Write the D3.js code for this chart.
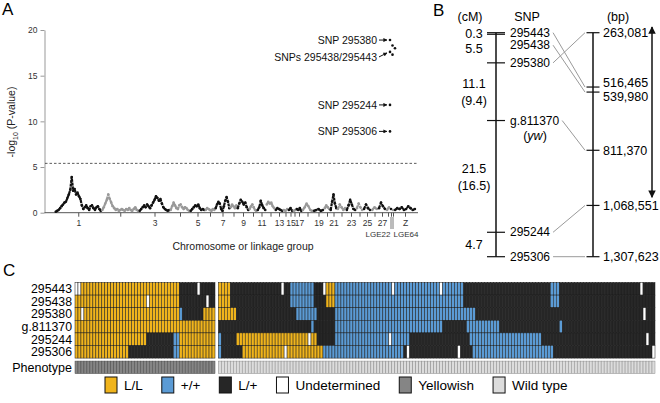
<!DOCTYPE html>
<html>
<head>
<meta charset="utf-8">
<script src="https://cdn.jsdelivr.net/npm/d3@7"></script>
<style>
  body { margin: 0; background: #fff; }
  svg { display: block; font-family: "Liberation Sans", Arial, Helvetica, sans-serif; }
</style>
</head>
<body>
<svg id="fig" width="660" height="403"></svg>
<script>
// ---------------- data: panel A (manhattan) ----------------
const chroms = ['1','2','3','4','5','6','7','8','9','10','11','12','13','14','15','16','17','18','19','20',
  '21','22','23','24','25','26','27','28','LGE22','LGE64','Z']
// relative plotted length of each chromosome
const chromSpan = [46.5, 37.5, 31, 20, 15, 10, 15, 7, 12, 8, 9, 9, 8, 5, 5, 3, 6, 11, 11, 6,
  7, 9, 10, 7, 8, 7, 8, 4, 2, 2, 22]
// -log10 P profile along every chromosome
const chromLogP = [
  [0.1,0.2,0.3,0.5,0.7,0.9,1.1,1.2,1.6,2.0,2.5,3.9,2.4,2.6,2.0,2.2,1.8,1.5,0.8,0.4,0.6,0.8,0.5,0.3,0.7,0.8,0.5,0.3,0.6,0.7,0.4,0.2],
  [0.3,0.6,1.0,1.4,2.0,1.5,1.1,0.7,0.5,0.3,0.4,0.2,0.3,0.4,0.3,0.2,0.4,0.3,0.5,0.3,0.2,0.4,0.6,0.3,0.2],
  [0.2,0.4,0.6,0.8,0.6,0.9,0.7,0.5,0.8,1.1,1.4,1.8,1.6,1.3,1.5,1.0,0.6,0.4,0.3,0.2,0.3],
  [0.3,0.7,1.1,0.8,0.5,0.4,0.8,0.9,0.6,0.4,0.6,0.5,0.3,0.2],
  [0.2,0.4,0.6,0.8,0.7,0.9,0.5,0.3,0.4,0.3],
  [0.3,0.5,0.4,0.3,0.2,0.4,0.3],
  [0.5,0.9,1.2,1.0,0.4,0.2,0.7,1.3,1.7,1.2,0.5],
  [0.6,0.9,0.7,0.5,0.8],
  [0.5,1.0,1.4,1.2,0.9,1.1,0.6,0.3],
  [0.4,0.7,0.9,0.6,0.3,0.2],
  [0.3,0.6,1.3,0.8,0.5,0.3],
  [0.9,1.2,1.0,1.1,0.7,0.5],
  [0.3,0.5,0.4,0.3,0.2],
  [0.3,0.2,0.4],
  [0.3,0.5,0.2],
  [0.2,0.3],
  [0.4,0.3,0.5,0.2],
  [0.3,0.6,1.0,0.7,0.3,0.2],
  [0.2,0.3,0.4,0.2,0.3],
  [0.5,0.8,0.6,0.4],
  [0.3,1.2,2.0,1.0,0.5],
  [0.4,0.9,0.6,0.3,0.5],
  [0.3,0.8,1.4,0.9,0.4,0.3],
  [0.5,1.0,0.6,0.3],
  [0.4,0.9,0.5,0.3],
  [0.3,0.6,0.4],
  [0.5,1.1,0.7,0.4],
  [0.3,0.6],
  [0.4],
  [0.3],
  [0.3,0.5,0.4,0.6,0.3,0.4,0.7,0.5,0.3,0.4]
]
const logpTicks = [0, 5, 10, 15, 20]
const threshold = 5.4
const sigChrom = '28'
const sigLabels = ['SNP 295380', 'SNPs 295438/295443', 'SNP 295244', 'SNP 295306']
const sigLogP = [[18.9, 18.3, 18.0], [17.6, 17.3], [11.8], [8.9]]

// ---------------- data: panel B (maps) ----------------
const mapSnps = ['295443', '295438', '295380', 'g.811370', '295244', '295306']
const cmGaps = [0.3, 5.5, 11.1, 21.5, 4.7]
const cmGapsAlt = ['', '', '(9.4)', '(16.5)', '']
const bpPos = [263081, 516465, 539980, 811370, 1068551, 1307623]
const snpToBp = [516465, 539980, 263081, 811370, 1068551, 1307623]
const candidateBp = [236000, 1030000]

// ---------------- data: panel C (genotypes, run lengths) ----------------
// L = L/L, B = +/+, H = L/+, U = undetermined
const genoMarkers = ['295443', '295438', '295380', 'g.811370', '295244', '295306']
const yellowishGeno = [
  [['U',2],['L',33],['H',6],['U',1],['H',5]],
  [['L',24],['U',1],['L',10],['H',9],['U',1],['H',2]],
  [['L',2],['U',1],['L',32],['B',1],['H',7],['L',4]],
  [['L',47]],
  [['L',24],['H',9],['B',2],['L',12]],
  [['L',18],['H',15],['B',2],['L',12]]
]
const wildGeno = [
  [['L',4],['H',17],['U',1],['H',2],['B',8],['H',3],['U',1],['L',3],['B',19],['U',1],['B',15],['U',1],['B',7],['H',29],['B',3],['H',27],['U',1],['H',4]],
  [['L',4],['H',20],['B',8],['H',4],['L',3],['B',43],['H',29],['B',3],['H',32]],
  [['L',6],['H',20],['B',7],['H',6],['B',47],['H',56],['U',1],['H',3]],
  [['H',31],['B',1],['H',7],['B',36],['H',8],['B',11],['H',20],['B',1],['H',31]],
  [['B',1],['H',5],['L',24],['U',1],['L',2],['H',6],['B',18],['U',1],['B',6],['H',20],['B',24],['H',35],['U',1],['H',2]],
  [['B',1],['H',7],['L',14],['U',1],['L',12],['B',27],['H',1],['U',1],['H',16],['U',1],['H',4],['B',27],['H',33],['U',1]]
]
const legendKeys = ['L', 'B', 'H', 'U', 'Y', 'W']
const legendLabels = ['L/L', '+/+', 'L/+', 'Undetermined', 'Yellowish', 'Wild type']

const fills = { L: '#f0b41c', B: '#5b9bd5', H: '#262626', U: '#ffffff', Y: '#858585', W: '#dcdcdc' }

const svg = d3.select('#fig')

// panel letters
svg.append('text').attr('x', 2).attr('y', 15).attr('font-size', 17).text('A')
svg.append('text').attr('x', 433).attr('y', 16).attr('font-size', 17).text('B')
svg.append('text').attr('x', 3).attr('y', 276).attr('font-size', 17).text('C')

// ================= A =================
const yA = d3.scaleLinear().domain([0, 20]).range([212.7, 30])
const total = d3.sum(chromSpan)
const xA = d3.scaleLinear().domain([0, total]).range([55, 416])
const ends = Array.from(d3.cumsum(chromSpan))
const starts = ends.map((e, i) => e - chromSpan[i])
const centers = starts.map((s, i) => s + chromSpan[i] / 2)

const gA = svg.append('g')

// y axis
gA.append('g')
  .attr('transform', 'translate(44.5,0)')
  .call(d3.axisLeft(yA).tickValues(logpTicks).tickSize(4).tickSizeOuter(0).tickPadding(3))
  .call(g => g.select('.domain').attr('stroke', '#999'))
  .call(g => g.selectAll('.tick line').attr('stroke', '#999'))
  .call(g => g.selectAll('.tick text').attr('font-size', 8.5).attr('fill', '#333')
    .attr('font-family', null))

// x axis
const labelFor = i => {
  const c = chroms[i]
  if (c === 'Z') return 'Z'
  if (c.startsWith('LGE')) return ''
  return (+c) % 2 === 1 ? c : ''
}
gA.append('line').attr('x1', 44.5).attr('x2', 418).attr('y1', 212.7).attr('y2', 212.7)
  .attr('stroke', '#555').attr('stroke-width', 1)
gA.append('g')
  .attr('transform', 'translate(0,212.7)')
  .call(d3.axisBottom(xA).tickValues(centers).tickFormat((d, i) => labelFor(i)).tickSize(4).tickSizeOuter(0).tickPadding(3))
  .call(g => g.select('.domain').remove())
  .call(g => g.selectAll('.tick line').attr('stroke', '#555'))
  .call(g => g.selectAll('.tick text').attr('font-size', 8.5).attr('fill', '#333').attr('font-family', null))

// LGE labels on a second line, pulled apart with leader lines
chroms.forEach((c, i) => {
  if (!c.startsWith('LGE')) return
  const cx = xA(centers[i])
  const left = c === 'LGE22'
  gA.append('line').attr('x1', cx).attr('x2', cx).attr('y1', 217).attr('y2', 229)
    .attr('stroke', '#555').attr('stroke-width', 0.8)
  gA.append('text').attr('x', left ? cx - 0.5 : cx + 0.5).attr('y', 237)
    .attr('text-anchor', left ? 'end' : 'start')
    .attr('font-size', 8).attr('fill', '#333').text(c)
})

gA.append('text').attr('x', 243).attr('y', 250).attr('text-anchor', 'middle')
  .attr('font-size', 10.5).attr('fill', '#222').text('Chromosome or linkage group')

const yl = gA.append('text').attr('transform', 'translate(15,122) rotate(-90)')
  .attr('text-anchor', 'middle').attr('font-size', 10.5).attr('fill', '#222')
yl.append('tspan').text('-log')
yl.append('tspan').attr('font-size', 7).attr('dy', 3).text('10')
yl.append('tspan').attr('dy', -3).text(' (P-value)')

// threshold
gA.append('line').attr('x1', 45).attr('x2', 418).attr('y1', yA(threshold)).attr('y2', yA(threshold))
  .attr('stroke', '#333').attr('stroke-width', 0.8).attr('stroke-dasharray', '2.5,2')

// points per chromosome
chromLogP.forEach((vals, i) => {
  const col = i % 2 === 0 ? '#111' : '#999'
  const step = chromSpan[i] / vals.length
  const pts = vals.map((v, j) => [xA(starts[i] + (j + 0.5) * step), yA(v)])
  if (pts.length > 1) {
    gA.append('path').attr('d', d3.line()(pts)).attr('fill', 'none')
      .attr('stroke', col).attr('stroke-width', 2.2).attr('stroke-linejoin', 'round')
      .attr('stroke-dasharray', '3,0.8')
  }
  gA.selectAll(null).data(pts).enter().append('circle')
    .attr('cx', d => d[0]).attr('cy', d => d[1]).attr('r', 1.3).attr('fill', col)
})

// significant SNPs + annotations
const defs = svg.append('defs')
defs.append('marker').attr('id', 'ah').attr('viewBox', '0 0 10 10').attr('refX', 9).attr('refY', 5)
  .attr('markerWidth', 4).attr('markerHeight', 4).attr('orient', 'auto')
  .append('path').attr('d', 'M0,0L10,5L0,10z').attr('fill', '#111')
defs.append('marker').attr('id', 'big').attr('viewBox', '0 0 10 10').attr('refX', 9).attr('refY', 5)
  .attr('markerWidth', 5).attr('markerHeight', 5).attr('orient', 'auto-start-reverse')
  .append('path').attr('d', 'M0,0L10,5L0,10z').attr('fill', '#111')

const si = chroms.indexOf(sigChrom)
const labelDy = [0, 5, 0, 0]
sigLogP.forEach((vals, k) => {
  const x0 = xA(centers[si]) + 2
  vals.forEach((v, j) => {
    gA.append('circle').attr('cx', x0 + j * 2.5).attr('cy', yA(v)).attr('r', 1.3).attr('fill', '#111')
  })
  const dotY = yA(vals[0])
  const ty = dotY + labelDy[k]
  gA.append('text').attr('x', x0 - 13).attr('y', ty).attr('dy', '0.35em')
    .attr('text-anchor', 'end').attr('font-size', 10.5).attr('fill', '#111').text(sigLabels[k])
  gA.append('line').attr('x1', x0 - 11).attr('y1', ty).attr('x2', x0 - 3).attr('y2', dotY + (ty - dotY) * 0.2)
    .attr('stroke', '#111').attr('stroke-width', 1).attr('marker-end', 'url(#ah)')
})

// ================= B =================
const gB = svg.append('g')
const cmPos = [0, ...Array.from(d3.cumsum(cmGaps))]
const yCm = d3.scaleLinear().domain([0, d3.max(cmPos)]).range([32.7, 256.7])
const yBp = d3.scaleLinear().domain(d3.extent(bpPos)).range([32.7, 256.7])
const axL = 496, axR = 593

gB.append('text').attr('x', 470).attr('y', 21).attr('text-anchor', 'middle').attr('font-size', 12.5).text('(cM)')
gB.append('text').attr('x', 527).attr('y', 21).attr('text-anchor', 'middle').attr('font-size', 12.5).text('SNP')
gB.append('text').attr('x', 618).attr('y', 21).attr('text-anchor', 'middle').attr('font-size', 12.5).text('(bp)')

gB.append('line').attr('x1', axL).attr('x2', axL).attr('y1', yCm(0)).attr('y2', yCm(d3.max(cmPos)))
  .attr('stroke', '#111').attr('stroke-width', 1.5)
gB.append('line').attr('x1', axR).attr('x2', axR).attr('y1', yBp(bpPos[0])).attr('y2', yBp(d3.max(bpPos)))
  .attr('stroke', '#111').attr('stroke-width', 1.5)

// cM ticks + SNP labels
let prevY = -100
const snpLabelY = []
cmPos.forEach((c, i) => {
  const y = yCm(c)
  gB.append('line').attr('x1', axL - 9).attr('x2', axL + 9).attr('y1', y).attr('y2', y)
    .attr('stroke', '#111').attr('stroke-width', 1.2)
  const ly = Math.max(y, prevY + 12.5)
  prevY = ly
  snpLabelY.push(ly)
})
const snpText = gB.selectAll('.snp').data(mapSnps).enter().append('text')
  .attr('class', 'snp').attr('x', 510).attr('y', (d, i) => snpLabelY[i]).attr('dy', '0.35em')
  .attr('font-size', 12).text(d => d)
gB.append('text').attr('x', 535).attr('y', snpLabelY[3] + 15).attr('dy', '0.35em')
  .attr('text-anchor', 'middle').attr('font-size', 12.5)
  .call(t => { t.append('tspan').text('('); t.append('tspan').attr('font-style', 'italic').text('yw'); t.append('tspan').text(')') })

// cM interval labels
cmGaps.forEach((g, i) => {
  const mid = (yCm(cmPos[i]) + yCm(cmPos[i + 1])) / 2
  if (cmGapsAlt[i]) {
    gB.append('text').attr('x', 474).attr('y', mid - 8).attr('dy', '0.35em').attr('text-anchor', 'middle').attr('font-size', 12.5).text(g)
    gB.append('text').attr('x', 474).attr('y', mid + 9).attr('dy', '0.35em').attr('text-anchor', 'middle').attr('font-size', 12.5).text(cmGapsAlt[i])
  } else {
    gB.append('text').attr('x', 474).attr('y', mid).attr('dy', '0.35em').attr('text-anchor', 'middle').attr('font-size', 12.5).text(g)
  }
})

// bp ticks + labels (spread close pairs)
const bpLabelY = bpPos.map(b => yBp(b))
for (let i = 1; i < bpLabelY.length; i++) {
  if (bpLabelY[i] - bpLabelY[i - 1] < 13) {
    const m = (bpLabelY[i] + bpLabelY[i - 1]) / 2
    bpLabelY[i - 1] = m - 7
    bpLabelY[i] = m + 7
  }
}
bpPos.forEach((b, i) => {
  const y = yBp(b)
  gB.append('line').attr('x1', axR - 6.5).attr('x2', axR + 6.5).attr('y1', y).attr('y2', y)
    .attr('stroke', '#111').attr('stroke-width', 1.2)
  gB.append('text').attr('x', 603).attr('y', bpLabelY[i]).attr('dy', '0.35em')
    .attr('font-size', 12.5).text(d3.format(',')(b))
})

// connectors SNP -> physical position
snpText.each(function (d, i) {
  const x1 = 510 + this.getComputedTextLength() + 3
  gB.append('line').attr('x1', x1).attr('y1', snpLabelY[i])
    .attr('x2', axR - 8).attr('y2', yBp(snpToBp[i]))
    .attr('stroke', '#9a9a9a').attr('stroke-width', 1)
})

// candidate region arrow
gB.append('line').attr('x1', 652).attr('x2', 652)
  .attr('y1', yBp(candidateBp[0])).attr('y2', yBp(candidateBp[1]))
  .attr('stroke', '#111').attr('stroke-width', 1.5)
  .attr('marker-start', 'url(#big)').attr('marker-end', 'url(#big)')

// ================= C =================
const gC = svg.append('g')
const rowH = 12.6, gridTop = 282.5
const nLeft = d3.sum(yellowishGeno[0], r => r[1])
const nRight = d3.sum(wildGeno[0], r => r[1])
const xLeft = d3.scaleLinear().domain([0, nLeft]).range([75, 215])
const xRight = d3.scaleLinear().domain([0, nRight]).range([218.3, 655])

function expand(runs) {
  const out = []
  runs.forEach(([k, n]) => { for (let j = 0; j < n; j++) out.push(k) })
  return out
}
function drawRow(cells, xs, y, h) {
  gC.selectAll(null).data(cells).enter().append('rect')
    .attr('x', (d, j) => xs(j)).attr('y', y)
    .attr('width', xs(1) - xs(0)).attr('height', h)
    .attr('fill', d => fills[d])
    .attr('stroke', d => d === 'W' ? '#8a8a8a' : (d === 'Y' ? '#4a4a4a' : '#1e1e1e'))
    .attr('stroke-width', 0.5)
}
genoMarkers.forEach((m, r) => {
  const y = gridTop + r * rowH
  drawRow(expand(yellowishGeno[r]), xLeft, y, rowH)
  drawRow(expand(wildGeno[r]), xRight, y, rowH)
  gC.append('text').attr('x', 72).attr('y', y + rowH / 2).attr('dy', '0.35em')
    .attr('text-anchor', 'end').attr('font-size', 12.3).text(m)
})
const phY = gridTop + 6 * rowH + 3
drawRow(expand([['Y', nLeft]]), xLeft, phY, 12.5)
drawRow(expand([['W', nRight]]), xRight, phY, 12.5)
gC.append('text').attr('x', 72).attr('y', phY + 6.25).attr('dy', '0.35em')
  .attr('text-anchor', 'end').attr('font-size', 12.5).text('Phenotype')

// legend
let lx = 105
legendKeys.forEach((k, i) => {
  gC.append('rect').attr('x', lx).attr('y', 377).attr('width', 12).attr('height', 16)
    .attr('fill', fills[k]).attr('stroke', '#111').attr('stroke-width', 1)
  const t = gC.append('text').attr('x', lx + 19).attr('y', 385).attr('dy', '0.35em')
    .attr('font-size', 13.5).text(legendLabels[i])
  lx += 19 + t.node().getComputedTextLength() + 19
})
</script>
</body>
</html>
